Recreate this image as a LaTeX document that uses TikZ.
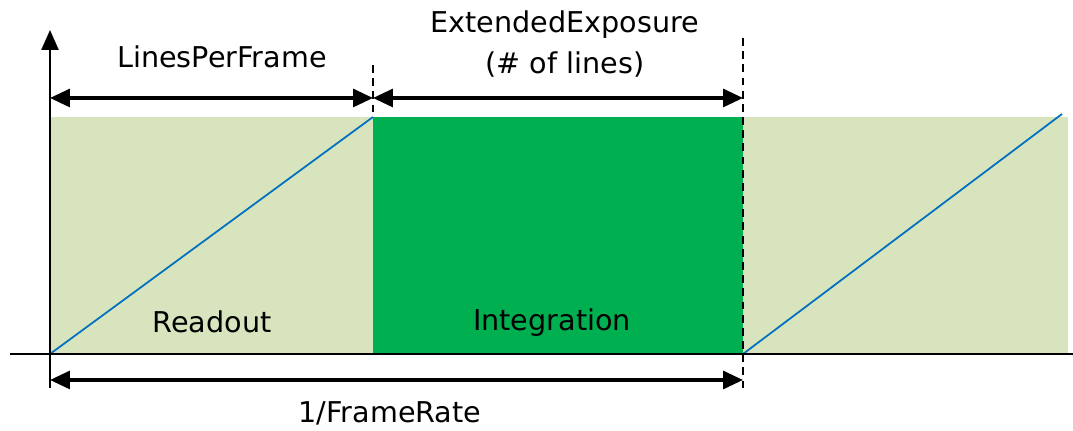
\documentclass[tikz,border=0pt]{standalone}
\usepackage{fontspec}
\setmainfont{DejaVu Sans}
\usepackage{tikz}
\usetikzlibrary{positioning}
\usetikzlibrary{arrows.meta}

\definecolor{readoutgreen}{HTML}{D7E4BD}
\definecolor{integgreen}{HTML}{00B050}
\definecolor{rampblue}{HTML}{0070C0}

\begin{document}
\begin{tikzpicture}[x=0.02cm, y=0.02cm,
	label/.style={font=\fontsize{16.3}{19.5}\selectfont, inner sep=0pt},
	span/.style={line width=1.8pt, {Triangle[length=0.4cm, width=0.36cm]}-{Triangle[length=0.4cm, width=0.36cm]}},
	mark line/.style={line width=1pt, dash pattern=on 4.5pt off 3pt},
	ramp/.style={rampblue, line width=1pt}]
	\useasboundingbox (0,0) rectangle (1073,431);

	\coordinate (o) at (50,77);
	\coordinate (r_top) at (373,314);
	\coordinate (r_bot) at (373,77);
	\coordinate (i_top) at (743,314);
	\coordinate (i_bot) at (743,77);
	\coordinate (n_top) at (1068,314);

	% frame regions
	\fill[readoutgreen] (o) rectangle (r_top);
	\fill[integgreen] (r_bot) rectangle (i_top);
	\fill[readoutgreen] (i_bot) rectangle (n_top);

	% rolling readout ramps
	\coordinate (ramp_end) at (1062,317);
	\draw[ramp] (o) -- (r_top);
	\draw[ramp] (i_bot) -- (ramp_end);

	% axes
	\coordinate (ax_top) at (50,401);
	\coordinate (ax_bot) at (50,43);
	\coordinate (ax_left) at (10,77);
	\coordinate (ax_right) at (1073,77);
	\draw[line width=1.1pt] (ax_left) -- (ax_right);
	\draw[line width=1.4pt, -{Triangle[length=0.4cm, width=0.34cm]}] (ax_bot) -- (ax_top);

	% boundaries
	\coordinate (r_mark) at (373,366);
	\coordinate (i_mark_top) at (743,393);
	\coordinate (i_mark_bot) at (743,41);
	\draw[mark line] (r_mark) -- (r_top);
	\draw[mark line] (i_mark_top) -- (i_mark_bot);

	% spans
	\coordinate (lpf_a) at (50,333);
	\coordinate (lpf_b) at (373,333);
	\coordinate (ee_b) at (743,333);
	\coordinate (fr_a) at (50,51);
	\coordinate (fr_b) at (743,51);
	\draw[span] (lpf_a) -- (lpf_b);
	\draw[span] (lpf_b) -- (ee_b);
	\draw[span] (fr_a) -- (fr_b);

	\node [label] (lpf) at (222,374) {LinesPerFrame};
	\node [label] (ee) at (565,406) {ExtendedExposure};
	\node [label, below=0.24cm of ee] (nlines) {(\# of lines)};
	\node [label] (readout) at (212,109) {Readout};
	\node [label] (integ) at (552,108) {Integration};
	\node [label] (framerate) at (390,18) {1/FrameRate};
\end{tikzpicture}
\end{document}
